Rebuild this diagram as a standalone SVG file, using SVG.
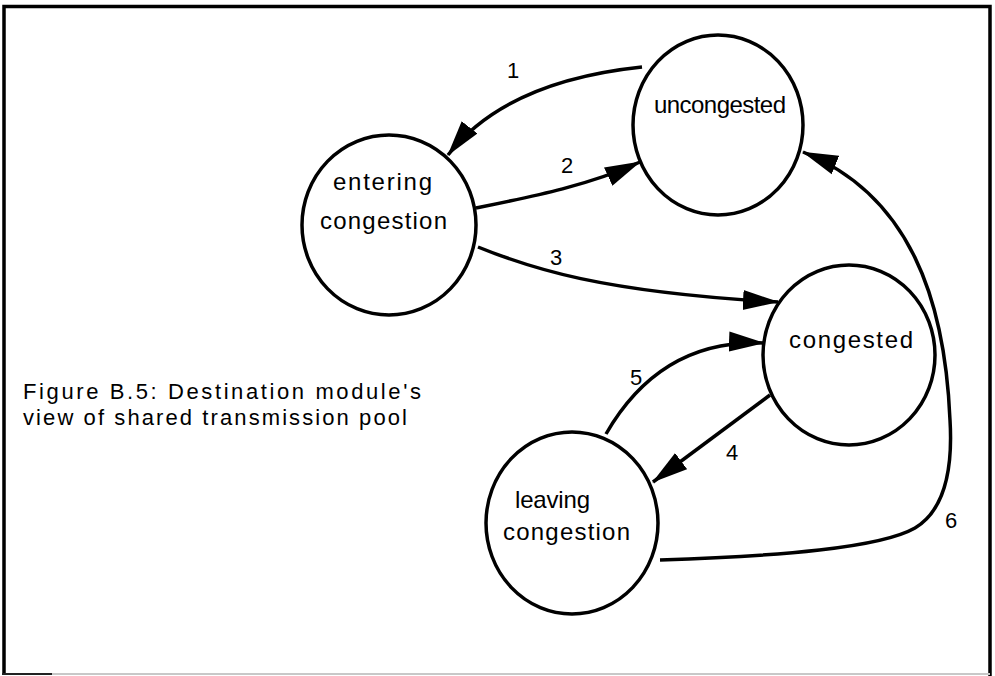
<svg xmlns="http://www.w3.org/2000/svg" width="995" height="676" viewBox="0 0 995 676">
  <style>
    .state { fill: #ffffff; stroke: #000000; stroke-width: 3.5; }
    .label { font-family: "Liberation Sans", Arial, sans-serif; font-size: 24px; fill: #000000; }
    .caption { font-family: "Liberation Sans", Arial, sans-serif; font-size: 22px; fill: #000000; }
    .edge { fill: none; stroke: #000000; stroke-width: 3.5; }
    .num { font-family: "Liberation Sans", Arial, sans-serif; font-size: 22px; fill: #000000; text-anchor: middle; }
  </style>
  <defs>
    <marker id="head" viewBox="0 0 36 22" markerWidth="36" markerHeight="22" refX="35" refY="11" orient="auto" markerUnits="userSpaceOnUse">
      <path d="M0,1 L36,11 L0,21 Z" fill="#000000"/>
    </marker>
  </defs>

  <rect x="0" y="0" width="995" height="676" fill="#ffffff"/>

  <!-- frame -->
  <g id="frame">
    <path d="M4,674 L4,6.5 L990,6.5 L990,676" fill="none" stroke="#000000" stroke-width="3.5"/>
    <line x1="4" y1="674" x2="990" y2="674" stroke="#c8c8c8" stroke-width="2"/>
    <line x1="2" y1="674" x2="52" y2="674" stroke="#222222" stroke-width="2"/>
  </g>

  <!-- transitions -->
  <g id="connectors">
    <path class="edge" d="M642,67 C575,74 495,95 448,155" marker-end="url(#head)"/>
    <path class="edge" d="M476,208 C535,196 590,185 640,162" marker-end="url(#head)"/>
    <path class="edge" d="M478,247 C530,268 600,292 778,302" marker-end="url(#head)"/>
    <path class="edge" d="M770,395 L653,482" stroke-width="4.5" marker-end="url(#head)"/>
    <path class="edge" d="M606,434 C640,375 690,340 764,343" marker-end="url(#head)"/>
    <path class="edge" d="M660,560 C780,556 880,548 915,528 C945,510 953,470 950,420 C945,300 910,195 803,152" marker-end="url(#head)"/>
  </g>

  <g id="labels">
    <text class="num" x="513" y="78">1</text>
    <text class="num" x="567" y="173">2</text>
    <text class="num" x="556" y="265">3</text>
    <text class="num" x="732" y="460">4</text>
    <text class="num" x="636" y="385">5</text>
    <text class="num" x="951" y="528">6</text>
  </g>

  <g id="uncongested">
    <ellipse class="state" cx="718" cy="125" rx="85" ry="90"/>
    <text class="label" x="654" y="113" textLength="132" lengthAdjust="spacing">uncongested</text>
  </g>

  <g id="entering-congestion">
    <ellipse class="state" cx="389" cy="225" rx="87" ry="90"/>
    <text class="label" x="333" y="190" textLength="99" lengthAdjust="spacing">entering</text>
    <text class="label" x="320" y="229" textLength="127" lengthAdjust="spacing">congestion</text>
  </g>

  <g id="congested">
    <ellipse class="state" cx="849" cy="355" rx="86" ry="90"/>
    <text class="label" x="789" y="348" textLength="124" lengthAdjust="spacing">congested</text>
  </g>

  <g id="leaving-congestion">
    <ellipse class="state" cx="572" cy="523" rx="86" ry="91"/>
    <text class="label" x="515" y="508" textLength="75" lengthAdjust="spacing">leaving</text>
    <text class="label" x="503" y="540" textLength="127" lengthAdjust="spacing">congestion</text>
  </g>

  <g id="caption">
    <text class="caption" x="23" y="399" textLength="398" lengthAdjust="spacing">Figure B.5: Destination module's</text>
    <text class="caption" x="23" y="425" textLength="384" lengthAdjust="spacing">view of shared transmission pool</text>
  </g>
</svg>
